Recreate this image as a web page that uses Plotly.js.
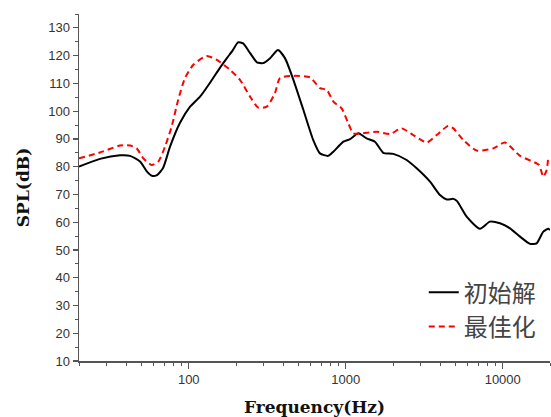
<!DOCTYPE html>
<html>
<head>
<meta charset="utf-8">
<script src="https://cdn.plot.ly/plotly-3.0.1.min.js"></script>
<style>
  html, body { margin: 0; padding: 0; background: #fff; }
  #chart { width: 551px; height: 417px; }
</style>
</head>
<body>
<div id="chart"></div>
<script>
// Frequency response, initial solution (Hz, dB)
const freqInitial = [20, 27.2, 36.5, 42.3, 49.1, 54.2, 58.3, 62.8, 68.6, 76, 88, 102, 118, 136.5, 158, 175, 191, 206, 222, 246, 272, 297, 330, 370, 410, 464, 537, 621, 685, 774, 834, 966, 1065, 1202, 1358, 1535, 1734, 2009, 2444, 2830, 3441, 3981, 4400, 4845, 5117, 5890, 7160, 8290, 9610, 11130, 12890, 14930, 16450, 18130, 19500, 20000];
const splInitial = [80, 82.8, 84.1, 83.9, 81.8, 78.2, 76.7, 77, 79.5, 87.2, 95.8, 101.6, 105.2, 110.2, 115.6, 119.1, 122, 124.8, 124.4, 120.9, 117.6, 117.3, 119.1, 122, 119.1, 111.3, 100.5, 89.6, 84.8, 83.9, 85.4, 89, 89.9, 92, 90.2, 89, 85, 84.6, 82.4, 79.4, 74.6, 69.8, 68.2, 68.4, 67.6, 62, 57.6, 60.2, 59.6, 57.8, 54.8, 52.2, 52.4, 56.6, 57.6, 57.2];

// Frequency response, optimised solution (Hz, dB)
const freqOptimal = [20, 27.2, 36.5, 42.3, 46.6, 51.4, 58.1, 64, 70.6, 77.8, 85.7, 94.6, 107, 130, 151, 183, 212, 246, 277, 314, 354, 381, 464, 592, 685, 756, 834, 942, 1038, 1117, 1265, 1574, 1916, 2270, 2692, 3283, 3796, 4498, 4845, 5613, 6820, 8710, 10330, 12890, 16450, 17070, 18130, 19050, 19500];
const splOptimal = [83, 85.1, 87.6, 87.6, 86.6, 83, 80.6, 81.8, 87.2, 94.4, 104.1, 111.9, 116.7, 119.9, 118.5, 114.9, 111.3, 105.2, 101.3, 101.6, 106.5, 111.9, 112.7, 112.2, 108.3, 107.7, 103.4, 101, 95.6, 92, 92, 92.6, 91.8, 93.8, 91.4, 88.7, 91.4, 94.7, 93.8, 89.6, 85.8, 86.6, 88.7, 83.9, 81.2, 80.6, 76.4, 78.8, 83.6];

const seriesNames = ['初始解', '最佳化'];
const xTickVals = [100, 1000, 10000];
const xTickText = ['100', '1000', '10000'];

const traces = [
  {
    x: freqInitial, y: splInitial, name: seriesNames[0],
    type: 'scatter', mode: 'lines',
    line: { color: '#000000', width: 2, shape: 'spline', smoothing: 0.6 }
  },
  {
    x: freqOptimal, y: splOptimal, name: seriesNames[1],
    type: 'scatter', mode: 'lines',
    line: { color: '#ff0000', width: 2, dash: '6px,4px', shape: 'spline', smoothing: 0.6 }
  }
];

const axisFont = { family: 'Liberation Sans, Arial, sans-serif', size: 13, color: '#333333' };
const titleFont = { family: 'DejaVu Serif, serif', size: 17, color: '#111111', weight: 'bold' };

const layout = {
  width: 551, height: 417,
  margin: { l: 79, r: 1, t: 14, b: 56 },
  paper_bgcolor: '#ffffff', plot_bgcolor: '#ffffff',
  showlegend: true,
  legend: {
    x: 0.732, y: 0.262, xanchor: 'left', yanchor: 'top',
    bgcolor: 'rgba(0,0,0,0)',
    font: { family: 'Noto Sans CJK SC, sans-serif', size: 24, color: '#444444' },
    tracegroupgap: 0
  },
  xaxis: {
    type: 'log',
    range: [Math.log10(20), Math.log10(20000)],
    tickvals: xTickVals, ticktext: xTickText,
    ticks: 'outside', ticklen: 6, tickwidth: 1.2, tickcolor: '#555555',
    showline: true, linecolor: '#555555', linewidth: 1.5,
    showgrid: false, zeroline: false,
    tickfont: axisFont,
    minor: { dtick: 'D1', ticks: 'outside', ticklen: 3, tickwidth: 1, tickcolor: '#555555', showgrid: false },
    title: { text: 'Frequency(Hz)', font: titleFont, standoff: 16 }
  },
  yaxis: {
    range: [10, 135],
    tick0: 10, dtick: 10,
    ticks: 'outside', ticklen: 5, tickwidth: 1.2, tickcolor: '#555555',
    showline: true, linecolor: '#555555', linewidth: 1.5,
    showgrid: false, zeroline: false,
    tickfont: axisFont,
    minor: { dtick: 5, ticks: 'outside', ticklen: 3, tickwidth: 1, tickcolor: '#555555', showgrid: false },
    title: { text: 'SPL(dB)', font: titleFont, standoff: 14 }
  }
};

Plotly.newPlot('chart', traces, layout, { displayModeBar: false, staticPlot: true });
</script>
</body>
</html>
